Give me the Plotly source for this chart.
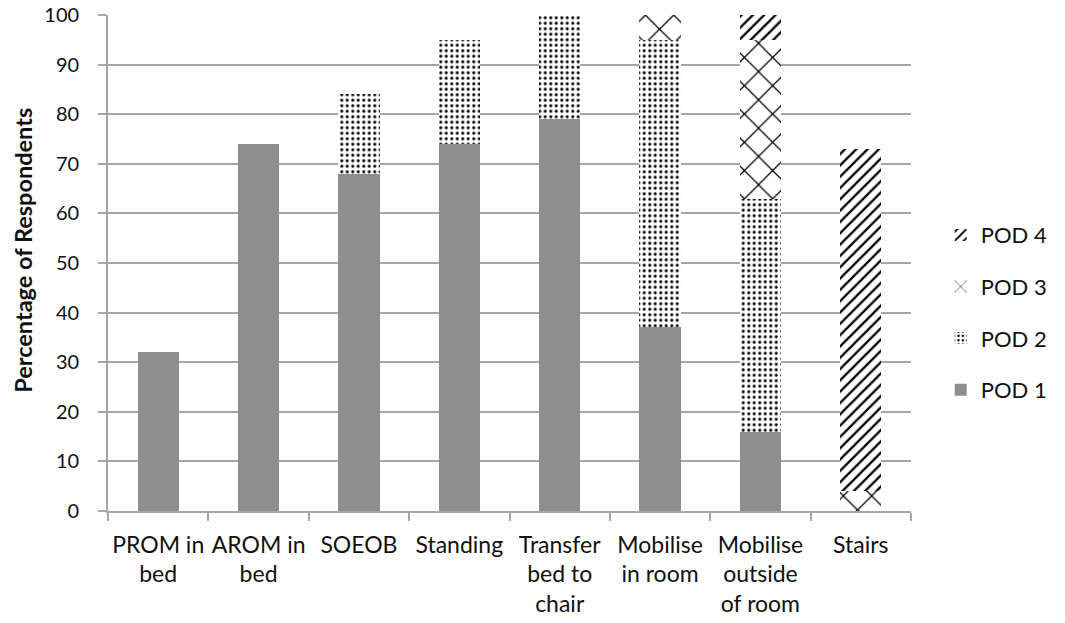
import plotly.graph_objects as go

categories = ["PROM in<br>bed", "AROM in<br>bed", "SOEOB", "Standing", "Transfer<br>bed to<br>chair",
              "Mobilise<br>in room", "Mobilise<br>outside<br>of room", "Stairs"]
pod1 = [32, 74, 68, 74, 79, 37, 16, 0]
pod2 = [0, 0, 16, 21, 21, 58, 47, 0]
pod3 = [0, 0, 0, 0, 0, 5, 32, 4]
pod4 = [0, 0, 0, 0, 0, 0, 5, 69]
y_ticks = list(range(0, 101, 10))

FONT = "Lato, Open Sans, sans-serif"
GRID = "#a6a6a6"

fig = go.Figure()
fig.add_trace(go.Bar(name="POD 1", x=categories, y=pod1, legendgroup="1", legendrank=4,
                     marker=dict(color="#8e8e8e", line=dict(width=0))))
fig.add_trace(go.Bar(name="POD 2", x=categories, y=pod2, legendgroup="2", legendrank=3,
                     marker=dict(color="white", line=dict(width=0),
                                 pattern=dict(shape=".", fgcolor="black", bgcolor="white", fgopacity=1,
                                              size=5.5, solidity=0.25, fillmode="overlay"))))
fig.add_trace(go.Bar(name="POD 3", x=categories, y=pod3, legendgroup="3", legendrank=2,
                     marker=dict(color="white", line=dict(width=0),
                                 pattern=dict(shape="x", fgcolor="black", bgcolor="white", fgopacity=1,
                                              size=20, solidity=0.12, fillmode="overlay"))))
fig.add_trace(go.Bar(name="POD 4", x=categories, y=pod4, legendgroup="4", legendrank=1,
                     marker=dict(color="white", line=dict(width=0),
                                 pattern=dict(shape="/", fgcolor="black", bgcolor="white", fgopacity=1,
                                              size=8, solidity=0.28, fillmode="overlay"))))

fig.update_layout(
    barmode="stack",
    bargap=0.59,
    autosize=False,
    width=1065, height=623,
    margin=dict(l=108, r=138, t=15, b=112),
    plot_bgcolor="white", paper_bgcolor="white",
    font=dict(family=FONT, size=23, color="#111111"),
    showlegend=True,
    legend=dict(x=1.037, y=0.40, xanchor="left", yanchor="middle",
                traceorder="grouped", tracegroupgap=20,
                font=dict(size=22), itemwidth=30),
    yaxis=dict(range=[0, 100], tickvals=y_ticks, showgrid=True, gridcolor=GRID, gridwidth=1.8,
               showline=True, linecolor=GRID, linewidth=1.8, automargin=False,
               ticks="outside", ticklen=8, tickcolor=GRID, tickwidth=1.8, zeroline=False,
               tickfont=dict(size=20), ticklabelstandoff=15, ticklabeloverflow="allow"),
    xaxis=dict(showline=True, linecolor=GRID, linewidth=1.8, tickson="boundaries", automargin=False,
               ticks="outside", ticklen=8, tickcolor=GRID, tickwidth=1.8, tickangle=0,
               tickfont=dict(size=23), ticklabelstandoff=12, ticklabeloverflow="allow"),
    annotations=[dict(text="<b>Percentage of Respondents</b>", textangle=-90,
                      xref="paper", yref="paper", x=-0.1062, y=0.526,
                      xanchor="center", yanchor="middle", showarrow=False,
                      font=dict(size=23.5, family=FONT, color="#111111"))],
)

fig.write_html("out.html", config={"responsive": False, "displayModeBar": False},
               post_script="document.body.style.margin='0';document.body.style.overflow='hidden';")
